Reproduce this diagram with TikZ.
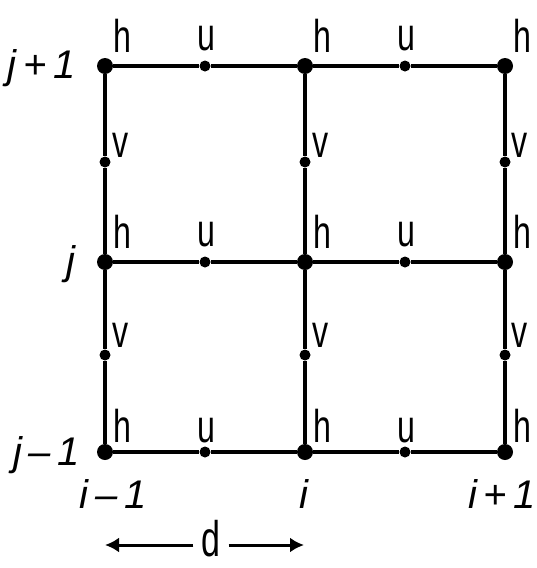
\documentclass[tikz,border=0pt]{standalone}
\usepackage{fontspec}
\setmainfont{Liberation Sans}
\usetikzlibrary{arrows.meta}
\begin{document}
\begin{tikzpicture}[x=1pt,y=-1pt,
  bigdot/.style={circle,fill=black,inner sep=0pt,minimum size=16pt},
  smalldot/.style={circle,fill=black,inner sep=0pt,minimum size=11pt},
  grid line/.style={line width=3.6pt},
  lbl/.style={font=\fontsize{46}{46}\selectfont,inner sep=0pt,anchor=base,xscale=0.7,transform shape},
  idx/.style={font=\fontsize{40}{40}\selectfont\itshape,inner sep=0pt,anchor=base},
  dlbl/.style={font=\fontsize{50}{50}\selectfont,inner sep=0pt,anchor=base,xscale=0.68,transform shape},
  dim arrow/.style={line width=3pt,-{Latex[length=14pt,width=15pt]}}]
\useasboundingbox (0,0) rectangle (537,568);
% big dots (h)
\foreach \c/\x in {1/105,2/305,3/505}{
  \foreach \r/\y in {1/66,2/262,3/452}{
    \node[bigdot] (h\c\r) at (\x,\y) {};
  }
}
% u dots
\foreach \c/\x in {1/205,2/405}{
  \foreach \r/\y in {1/66,2/262,3/452}{
    \node[smalldot] (u\c\r) at (\x,\y) {};
  }
}
% v dots
\foreach \c/\x in {1/105,2/305,3/505}{
  \foreach \r/\y in {1/162,2/355}{
    \node[smalldot] (v\c\r) at (\x,\y) {};
  }
}
% horizontal lines
\foreach \r in {1,2,3}{
  \draw[grid line] (h1\r) -- (u1\r) -- (h2\r) -- (u2\r) -- (h3\r);
}
% vertical lines
\foreach \c in {1,2,3}{
  \draw[grid line] (h\c1) -- (v\c1) -- (h\c2) -- (v\c2) -- (h\c3);
}
% h labels
\foreach \c/\x in {1/122,2/322,3/522}{
  \foreach \r/\y in {1/52,2/248,3/442}{
    \node[lbl] (lh\c\r) at (\x,\y) {h};
  }
}
% u labels
\foreach \c/\x in {1/206,2/406}{
  \foreach \r/\y in {1/50,2/246,3/442}{
    \node[lbl] (lu\c\r) at (\x,\y) {u};
  }
}
% v labels
\foreach \c/\x in {1/121,2/321,3/520}{
  \foreach \r/\y in {1/157,2/347}{
    \node[lbl] (lv\c\r) at (\x,\y) {v};
  }
}
% row labels
\node[idx,anchor=base east] (j1) at (76,78) {j\,+\,1};
\node[idx,anchor=base east] (j2) at (76,274) {j};
\node[idx,anchor=base east] (j3) at (80,465) {j\,\textendash\,1};
% column labels
\node[idx] (i1) at (113,508) {i\,\textendash\,1};
\node[idx] (i2) at (304,508) {i};
\node[idx] (i3) at (502,508) {i\,+\,1};
% dimension
\node[dlbl] (d) at (211,556) {d};
\coordinate (dl) at (105,545);
\coordinate (dr) at (304,545);
\draw[dim arrow] (d.west |- dl) ++(-8,0) -- (dl);
\draw[dim arrow] (d.east |- dr) ++(8,0) -- (dr);
\end{tikzpicture}
\end{document}
